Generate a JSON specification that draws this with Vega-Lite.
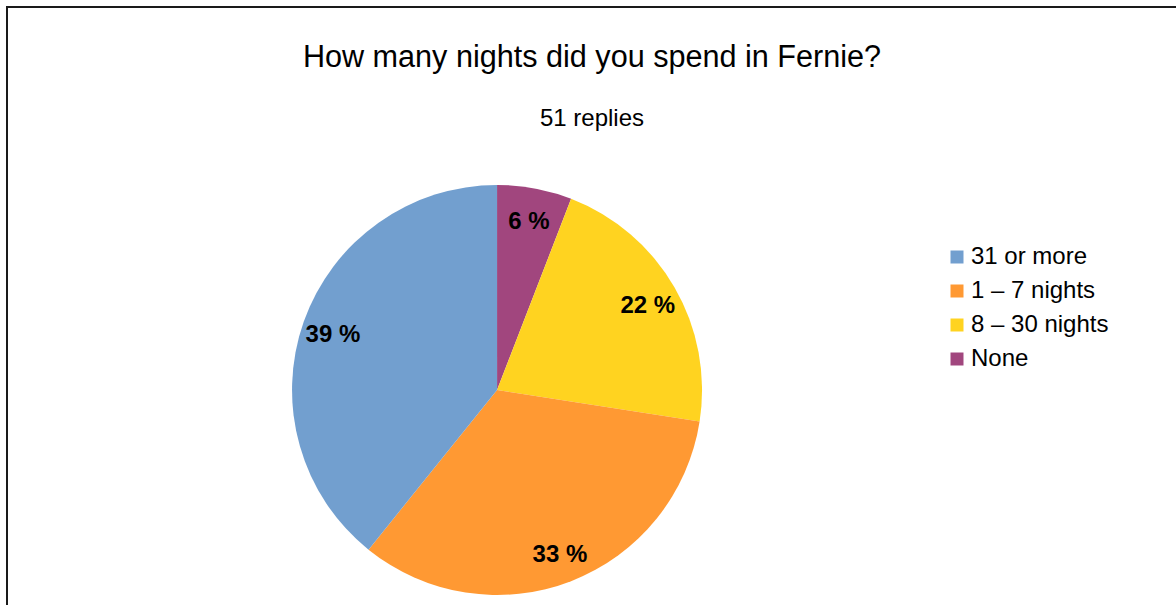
{
  "$schema": "https://vega.github.io/schema/vega-lite/v6.json",
  "width": 1190,
  "height": 620,
  "autosize": "none",
  "padding": {"left": 7, "top": 7, "right": 0, "bottom": 0},
  "background": "white",
  "view": {"stroke": "#1a1a1a", "strokeWidth": 2, "fill": "white"},
  "config": {
    "font": "Liberation Sans"
  },
  "title": {
    "text": "How many nights did you spend in Fernie?",
    "subtitle": "51 replies",
    "fontSize": 30.6,
    "fontWeight": "normal",
    "subtitleFontSize": 24,
    "color": "black",
    "subtitleColor": "black",
    "anchor": "middle",
    "offset": -124,
    "subtitlePadding": 33,
    "dx": -10
  },
  "data": {
    "values": [
      {"cat": "None", "n": 3, "label": "6 %", "o": 1},
      {"cat": "8 – 30 nights", "n": 11, "label": "22 %", "o": 2},
      {"cat": "1 – 7 nights", "n": 17, "label": "33 %", "o": 3},
      {"cat": "31 or more", "n": 20, "label": "39 %", "o": 4}
    ]
  },
  "encoding": {
    "theta": {"field": "n", "type": "quantitative", "stack": true},
    "order": {"field": "o", "type": "quantitative"}
  },
  "layer": [
    {
      "mark": {
        "type": "arc",
        "outerRadius": 205,
        "x": {"expr": "width*0.4118"},
        "y": {"expr": "height*0.6177"}
      },
      "encoding": {
        "color": {
          "field": "cat",
          "type": "nominal",
          "scale": {
            "domain": ["31 or more", "1 – 7 nights", "8 – 30 nights", "None"],
            "range": ["#729fcf", "#ff9933", "#ffd320", "#a1467e"]
          },
          "legend": {
            "orient": "none",
            "legendX": 933,
            "legendY": 233,
            "padding": 5,
            "title": null,
            "labelFontSize": 24,
            "labelColor": "black",
            "symbolType": "square",
            "symbolSize": 169,
            "symbolStrokeWidth": 0,
            "rowPadding": 10,
            "labelOffset": 2
          }
        }
      }
    },
    {
      "mark": {
        "type": "text",
        "radius": 174,
        "dy": 3,
        "fontSize": 24,
        "fontWeight": "bold",
        "color": "black",
        "x": {"expr": "width*0.4118"},
        "y": {"expr": "height*0.6177"}
      },
      "encoding": {
        "detail": {"field": "cat", "type": "nominal"},
        "text": {"field": "label", "type": "nominal"}
      }
    }
  ]
}
